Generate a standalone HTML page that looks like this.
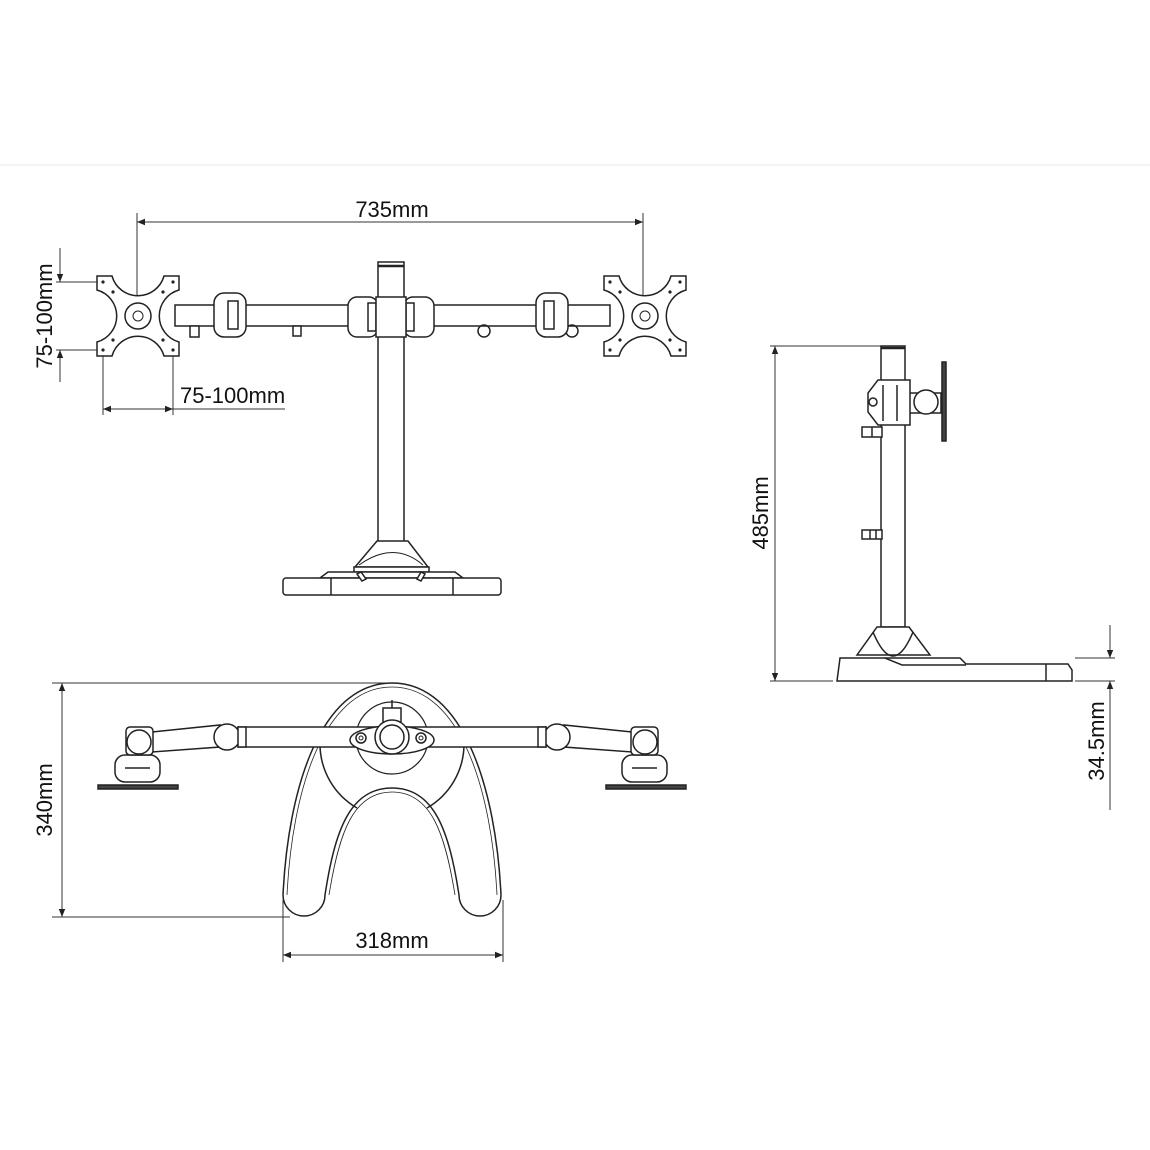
<!DOCTYPE html>
<html><head><meta charset="utf-8"><style>
html,body{margin:0;padding:0;background:#fff;}
svg{display:block;}
text{font-family:"Liberation Sans",Arial,sans-serif;fill:#111;}
</style></head><body>
<svg width="1150" height="1150" viewBox="0 0 1150 1150" xmlns="http://www.w3.org/2000/svg">
<defs>
<marker id="ar" viewBox="0 0 10 10" refX="10" refY="5" markerWidth="14" markerHeight="8" markerUnits="userSpaceOnUse" orient="auto-start-reverse"><path d="M0,1 L10,5 L0,9 Z" fill="#222"/></marker>
</defs>
<line x1="0" y1="165" x2="1150" y2="165" stroke="#e8e8e8" stroke-width="1"/>

<g stroke="#333" stroke-width="1" fill="none">
<line x1="137" y1="213" x2="137" y2="300"/><line x1="643" y1="213" x2="643" y2="300"/>
<line x1="137" y1="222" x2="643" y2="222" marker-start="url(#ar)" marker-end="url(#ar)"/>
<line x1="60" y1="248" x2="60" y2="282" marker-end="url(#ar)"/>
<line x1="60" y1="350" x2="60" y2="382" marker-start="url(#ar)"/>
<line x1="56" y1="282" x2="100" y2="282"/><line x1="56" y1="350" x2="100" y2="350"/>
<line x1="103" y1="355" x2="103" y2="415"/><line x1="173" y1="355" x2="173" y2="415"/>
<line x1="103" y1="409" x2="173" y2="409" marker-start="url(#ar)" marker-end="url(#ar)"/>
<line x1="173" y1="409" x2="285" y2="409"/>
<line x1="52" y1="683" x2="392" y2="683"/><line x1="52" y1="917" x2="290" y2="917"/>
<line x1="62" y1="683" x2="62" y2="917" marker-start="url(#ar)" marker-end="url(#ar)"/>
<line x1="283" y1="900" x2="283" y2="962"/><line x1="503" y1="900" x2="503" y2="962"/>
<line x1="283" y1="955" x2="503" y2="955" marker-start="url(#ar)" marker-end="url(#ar)"/>
<line x1="770" y1="346" x2="905" y2="346"/><line x1="770" y1="681" x2="833" y2="681"/>
<line x1="775" y1="346" x2="775" y2="681" marker-start="url(#ar)" marker-end="url(#ar)"/>
<line x1="1075" y1="658" x2="1115" y2="658"/><line x1="1075" y1="681" x2="1115" y2="681"/>
<line x1="1110" y1="625" x2="1110" y2="658" marker-end="url(#ar)"/>
<line x1="1110" y1="681" x2="1110" y2="810" marker-start="url(#ar)"/>
</g>

<text x="392" y="217" font-size="22" text-anchor="middle">735mm</text>
<text x="180" y="403" font-size="22">75-100mm</text>
<text transform="translate(52,316) rotate(-90)" font-size="22" text-anchor="middle">75-100mm</text>
<text transform="translate(52,800) rotate(-90)" font-size="22" text-anchor="middle">340mm</text>
<text x="392" y="948" font-size="22" text-anchor="middle">318mm</text>
<text transform="translate(768,513) rotate(-90)" font-size="22" text-anchor="middle">485mm</text>
<text transform="translate(1104,741) rotate(-90)" font-size="22" text-anchor="middle">34.5mm</text>

<g stroke="#222" stroke-width="1.5" fill="#fff">
<rect x="378" y="262" width="26" height="280"/>
<line x1="378" y1="266" x2="404" y2="266" stroke-width="2.5"/>
<rect x="175" y="305" width="435" height="21"/>
<rect x="190" y="326" width="9" height="11"/><rect x="293" y="326" width="8" height="10"/>
<circle cx="484" cy="331" r="6" fill="none"/><circle cx="572" cy="331" r="6" fill="none"/>
<rect x="214" y="293" width="32" height="44" rx="10"/><rect x="228" y="301" width="10" height="28"/>
<rect x="348" y="297" width="30" height="40" rx="9"/><rect x="368" y="303" width="8" height="28"/>
<rect x="404" y="297" width="30" height="40" rx="9"/><rect x="406" y="303" width="8" height="28"/>
<rect x="376" y="297" width="30" height="40"/>
<rect x="536" y="293" width="32" height="44" rx="10"/><rect x="544" y="301" width="10" height="28"/>
<g transform="translate(138,316)">
<path d="M-41,-40 L-26,-40 A27 27 0 0 0 26,-40 L41,-40 L41,-26 A27 27 0 0 0 41,26 L41,40 L26,40 A27 27 0 0 0 -26,40 L-41,40 L-41,26 A27 27 0 0 0 -41,-26 Z"/>
<circle r="13" fill="none"/><circle r="5" fill="none" stroke-width="1"/>
<g fill="#222" stroke="none"><circle cx="-35" cy="-34" r="1.6"/><circle cx="35" cy="-34" r="1.6"/><circle cx="-35" cy="34" r="1.6"/><circle cx="35" cy="34" r="1.6"/><circle cx="-25" cy="-24" r="1.6"/><circle cx="25" cy="-24" r="1.6"/><circle cx="-25" cy="24" r="1.6"/><circle cx="25" cy="24" r="1.6"/></g>
</g>
<g transform="translate(645,316)">
<path d="M-41,-40 L-26,-40 A27 27 0 0 0 26,-40 L41,-40 L41,-26 A27 27 0 0 0 41,26 L41,40 L26,40 A27 27 0 0 0 -26,40 L-41,40 L-41,26 A27 27 0 0 0 -41,-26 Z"/>
<circle r="13" fill="none"/><circle r="5" fill="none" stroke-width="1"/>
<g fill="#222" stroke="none"><circle cx="-35" cy="-34" r="1.6"/><circle cx="35" cy="-34" r="1.6"/><circle cx="-35" cy="34" r="1.6"/><circle cx="35" cy="34" r="1.6"/><circle cx="-25" cy="-24" r="1.6"/><circle cx="25" cy="-24" r="1.6"/><circle cx="-25" cy="24" r="1.6"/><circle cx="25" cy="24" r="1.6"/></g>
</g>
<path d="M377,541 L408,541 L428,567 L355,567 Z"/>
<path d="M359,565 Q394,540 423,565" fill="none" stroke-width="1"/>
<rect x="354" y="567" width="75" height="5"/>
<path d="M320,578 L328,572 L455,572 L463,578 Z"/>
<rect x="283" y="578" width="218" height="17" rx="3"/>
<line x1="331" y1="578" x2="331" y2="595"/><line x1="453" y1="578" x2="453" y2="595"/>
<path d="M357,574 L361,572 L366,579 L362,581 Z"/><path d="M421,572 L425,574 L421,581 L417,579 Z"/>
</g>

<g stroke="#222" stroke-width="1.5" fill="#fff">
<path d="M283,895 C288,790 320,683 392,683 C464,683 496,790 501,895 A21 21 0 0 1 459,895 C449,830 434,788 392,788 C350,788 335,830 325,895 A21 21 0 0 1 283,895 Z"/>
<path d="M287,895 C292,792 323,687 392,687 C461,687 492,792 497,895" fill="none" stroke-width="0.8"/>
<path d="M329,895 C339,833 353,792 392,792 C431,792 445,833 455,895" fill="none" stroke-width="0.8"/>
<path d="M320,745 A74 74 0 0 0 357,808" fill="none"/><path d="M464,745 A74 74 0 0 1 427,808" fill="none"/>
<circle cx="392" cy="738" r="36" fill="none" stroke-width="1.2"/>
<rect x="238" y="727" width="308" height="20"/>
<path d="M152,732 L220,725 L220,747 L152,752 Z"/>
<path d="M632,732 L564,725 L564,747 L632,752 Z"/>
<ellipse cx="392" cy="740" rx="42" ry="14"/>
<circle cx="361" cy="738" r="5"/><circle cx="361" cy="738" r="2" fill="none" stroke-width="1"/>
<circle cx="421" cy="738" r="5"/><circle cx="421" cy="738" r="2" fill="none" stroke-width="1"/>
<rect x="383" y="708" width="18" height="14"/>
<line x1="392" y1="700" x2="392" y2="708"/>
<circle cx="392" cy="737" r="17"/><circle cx="392" cy="737" r="12"/>
<circle cx="227" cy="737" r="13"/><rect x="238" y="727" width="8" height="20"/>
<circle cx="557" cy="737" r="13"/><rect x="538" y="727" width="8" height="20"/>
<rect x="115" y="755" width="45" height="27" rx="10"/><line x1="125" y1="768" x2="150" y2="768"/>
<rect x="126" y="727" width="27" height="28" rx="4"/><circle cx="139" cy="742" r="12"/>
<rect x="98" y="785" width="80" height="4" fill="#444"/>
<rect x="622" y="755" width="45" height="27" rx="10"/><line x1="632" y1="768" x2="657" y2="768"/>
<rect x="631" y="727" width="27" height="28" rx="4"/><circle cx="645" cy="742" r="12"/>
<rect x="606" y="785" width="80" height="4" fill="#444"/>
</g>

<g stroke="#222" stroke-width="1.5" fill="#fff">
<rect x="881" y="346" width="24" height="281"/>
<line x1="881" y1="348" x2="905" y2="348" stroke-width="2.5"/>
<rect x="905" y="393" width="36" height="20"/>
<circle cx="926" cy="402" r="12"/>
<rect x="942" y="362" width="4" height="79" fill="#444"/>
<path d="M878,380 L910,380 L910,425 L878,425 L868,412 L868,393 Z"/>
<line x1="883" y1="385" x2="883" y2="421"/><line x1="897" y1="385" x2="897" y2="421"/>
<circle cx="873" cy="402" r="4"/>
<rect x="862" y="427" width="20" height="10"/><line x1="872" y1="427" x2="872" y2="437"/>
<rect x="862" y="530" width="20" height="9"/><line x1="870" y1="530" x2="870" y2="539"/><line x1="876" y1="530" x2="876" y2="539"/>
<path d="M877,627 L909,627 L930,655 L857,655 Z"/>
<path d="M873,632 Q893,680 913,632" fill="none"/>
<path d="M837,681 L840,658 L960,658 L966,664 L1068,664 L1072,670 L1072,681 Z"/>
<path d="M885,658 L902,665 L966,665" fill="none"/>
<line x1="1046" y1="664" x2="1046" y2="681"/>
</g>
</svg>
</body></html>
